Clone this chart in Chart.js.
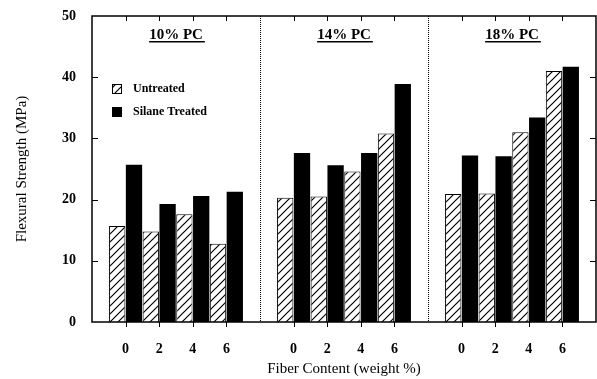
<!DOCTYPE html>
<html lang="en">
  <head>
    <meta charset="UTF-8" />
    <title>Flexural Strength</title>
    <script src="https://cdn.jsdelivr.net/npm/chart.js"></script>
    <style>
      body {
        margin: 0;
        padding: 0;
        background: #fff;
      }
      #wrap {
        width: 597px;
        height: 379px;
      }
    </style>
  </head>
  <body>
    <div id="wrap"><canvas id="barChart" width="597" height="379"></canvas></div>
    <script>
      // data
      const panels = ["10% PC", "14% PC", "18% PC"];
      const fiberContent = ["0", "2", "4", "6"];
      const untreated = [
        [15.7, 14.8, 17.6, 12.8],
        [20.3, 20.5, 24.6, 30.8],
        [20.9, 21.0, 31.0, 41.0],
      ];
      const silaneTreated = [
        [25.7, 19.3, 20.6, 21.3],
        [27.6, 25.6, 27.6, 38.9],
        [27.2, 27.1, 33.4, 41.7],
      ];
      const yTicks = [0, 10, 20, 30, 40, 50];

      // one empty slot on each panel edge so the panels sit apart
      const labels = [""];
      const untreatedData = [null];
      const silaneData = [null];
      panels.forEach((p, i) => {
        fiberContent.forEach((f, j) => {
          labels.push(f);
          untreatedData.push(untreated[i][j]);
          silaneData.push(silaneTreated[i][j]);
        });
        labels.push("");
        untreatedData.push(null);
        silaneData.push(null);
      });

      function hatch() {
        const c = document.createElement("canvas");
        c.width = 8;
        c.height = 8;
        const g = c.getContext("2d");
        g.fillStyle = "#fff";
        g.fillRect(0, 0, 8, 8);
        g.strokeStyle = "#000";
        g.lineWidth = 1.2;
        g.beginPath();
        g.moveTo(-1, 9);
        g.lineTo(9, -1);
        g.moveTo(-5, 5);
        g.lineTo(5, -5);
        g.moveTo(3, 13);
        g.lineTo(13, 3);
        g.stroke();
        return g.createPattern(c, "repeat");
      }
      const hatchFill = hatch();

      const serif = "'Liberation Serif', 'DejaVu Serif', serif";

      // frame, tick marks, dotted separators, panel titles and legend
      const decor = {
        id: "decor",
        afterDatasetsDraw(chart) {
          const ctx = chart.ctx;
          const a = chart.chartArea;
          const x = chart.scales.x;
          const y = chart.scales.y;
          ctx.save();
          ctx.strokeStyle = "#000";
          ctx.lineWidth = 1.5;
          ctx.strokeRect(a.left, a.top, a.right - a.left, a.bottom - a.top);

          ctx.lineWidth = 1;
          ctx.beginPath();
          labels.forEach((l, i) => {
            if (l === "") return;
            const px = Math.round(x.getPixelForValue(i)) + 0.5;
            ctx.moveTo(px, a.top);
            ctx.lineTo(px, a.top + 5);
            ctx.moveTo(px, a.bottom);
            ctx.lineTo(px, a.bottom + 5);
          });
          yTicks.slice(1, -1).forEach((v) => {
            const py = Math.round(y.getPixelForValue(v)) + 0.5;
            ctx.moveTo(a.left, py);
            ctx.lineTo(a.left + 6, py);
            ctx.moveTo(a.right, py);
            ctx.lineTo(a.right - 6, py);
          });
          ctx.stroke();

          ctx.setLineDash([1, 1]);
          [5, 10].forEach((i) => {
            const px = Math.round(x.getPixelForValue(i)) + 0.5;
            ctx.beginPath();
            ctx.moveTo(px, a.top);
            ctx.lineTo(px, a.bottom);
            ctx.stroke();
          });
          ctx.setLineDash([]);

          ctx.fillStyle = "#000";
          ctx.font = "bold 15px " + serif;
          ctx.textAlign = "center";
          ctx.textBaseline = "alphabetic";
          panels.forEach((p, i) => {
            const cx = x.getPixelForValue(i * 5 + 2.5);
            ctx.fillText(p, cx, 39);
            const w = ctx.measureText(p).width;
            ctx.fillRect(cx - w / 2, 41, w + 2, 1.5);
          });

          ctx.font = "bold 12px " + serif;
          ctx.textAlign = "left";
          ctx.textBaseline = "middle";
          const lx = 112;
          ctx.fillStyle = hatchFill;
          ctx.fillRect(lx, 84, 10, 10);
          ctx.strokeRect(lx + 0.5, 84.5, 9, 9);
          ctx.fillStyle = "#000";
          ctx.fillRect(lx, 107, 10, 10);
          ctx.fillText("Untreated", 133, 89);
          ctx.fillText("Silane Treated", 133, 112);
          ctx.restore();
        },
      };

      new Chart(document.getElementById("barChart"), {
        type: "bar",
        data: {
          labels: labels,
          datasets: [
            {
              label: "Untreated",
              data: untreatedData,
              backgroundColor: hatchFill,
              borderColor: "#000",
              borderWidth: 1,
              categoryPercentage: 1,
              barPercentage: 0.97,
            },
            {
              label: "Silane Treated",
              data: silaneData,
              backgroundColor: "#000",
              borderColor: "#000",
              borderWidth: 0,
              categoryPercentage: 1,
              barPercentage: 0.97,
            },
          ],
        },
        plugins: [decor],
        options: {
          responsive: false,
          animation: false,
          layout: { padding: { top: 16, right: 1, left: 0, bottom: 0 } },
          plugins: {
            legend: { display: false },
            tooltip: { enabled: false },
          },
          scales: {
            x: {
              type: "category",
              offset: false,
              grid: { display: false, drawTicks: false },
              border: { display: false },
              ticks: {
                autoSkip: false,
                maxRotation: 0,
                padding: 19,
                color: "#000",
                font: { family: serif, size: 14, weight: "bold" },
              },
              title: {
                display: true,
                text: "Fiber Content (weight %)",
                color: "#000",
                padding: { top: 0, bottom: 1 },
                font: { family: serif, size: 15 },
              },
              afterFit(scale) {
                scale.height = 57;
                scale.paddingLeft = 0;
                scale.paddingRight = 0;
              },
            },
            y: {
              min: 0,
              max: 50,
              afterBuildTicks(scale) {
                scale.ticks = yTicks.map((v) => ({ value: v }));
              },
              grid: { display: false, drawTicks: false },
              border: { display: false },
              ticks: {
                padding: 16,
                color: "#000",
                font: { family: serif, size: 14, weight: "bold" },
              },
              title: {
                display: true,
                text: "Flexural Strength (MPa)",
                color: "#000",
                padding: { top: 13, bottom: 0 },
                font: { family: serif, size: 15 },
              },
              afterFit(scale) {
                scale.width = 92;
                scale.paddingTop = 0;
                scale.paddingBottom = 0;
              },
            },
          },
        },
      });
    </script>
  </body>
</html>
